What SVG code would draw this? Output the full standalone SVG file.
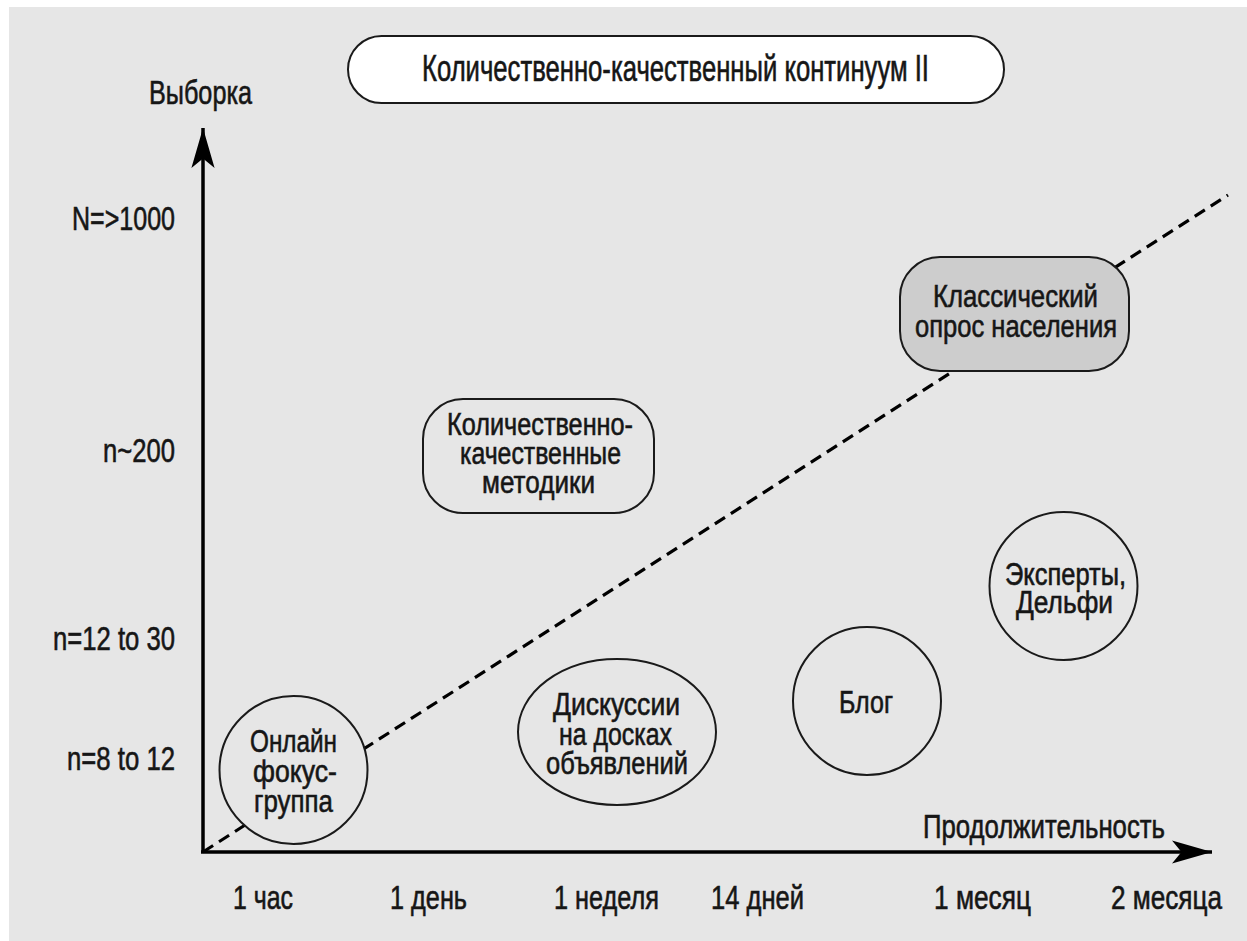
<svg xmlns="http://www.w3.org/2000/svg" width="1247" height="941" viewBox="0 0 1247 941">
<style>
  text { font-family: "Liberation Sans", Arial, sans-serif; fill: #161616; stroke: #161616; stroke-width: 0.6; }
  .ax { font-size: 33px; }
  .nd { font-size: 31px; }
  .ttl { font-size: 36px; }
  .shape { fill: #e6e6e6; stroke: #1a1a1a; stroke-width: 2; }
  .axis { stroke: #000; stroke-width: 3.5; fill: none; }
  .trend { stroke: #000; stroke-width: 3.2; stroke-dasharray: 12 7; fill: none; }
</style>
<defs>
  <marker id="arrowhead" markerUnits="userSpaceOnUse" markerWidth="40" markerHeight="24" viewBox="0 0 38 22" refX="38" refY="11" orient="auto">
    <path d="M0,0 L38,11 L0,22 L9,11 Z" fill="#000"/>
  </marker>
</defs>
<rect x="9" y="7" width="1238" height="934" fill="#e6e6e6"/>

<g id="connectors">
  <line class="trend" x1="203" y1="852" x2="1228" y2="195"/>
</g>

<g id="axes">
  <line class="axis" x1="203" y1="852" x2="203" y2="128" marker-end="url(#arrowhead)"/>
  <line class="axis" x1="201" y1="852" x2="1212" y2="852" marker-end="url(#arrowhead)"/>
  <text class="ax" x="149" y="104" textLength="103" lengthAdjust="spacingAndGlyphs">Выборка</text>
  <text class="ax" x="923" y="838" textLength="242" lengthAdjust="spacingAndGlyphs">Продолжительность</text>
  <text class="ax" x="72" y="230" textLength="103" lengthAdjust="spacingAndGlyphs">N=&gt;1000</text>
  <text class="ax" x="103" y="462" textLength="72" lengthAdjust="spacingAndGlyphs">n~200</text>
  <text class="ax" x="53" y="650" textLength="122" lengthAdjust="spacingAndGlyphs">n=12 to 30</text>
  <text class="ax" x="67" y="770" textLength="108" lengthAdjust="spacingAndGlyphs">n=8 to 12</text>
  <text class="ax" x="233" y="909" textLength="60" lengthAdjust="spacingAndGlyphs">1 час</text>
  <text class="ax" x="390" y="909" textLength="77" lengthAdjust="spacingAndGlyphs">1 день</text>
  <text class="ax" x="554" y="909" textLength="105" lengthAdjust="spacingAndGlyphs">1 неделя</text>
  <text class="ax" x="711" y="909" textLength="93" lengthAdjust="spacingAndGlyphs">14 дней</text>
  <text class="ax" x="934" y="909" textLength="97" lengthAdjust="spacingAndGlyphs">1 месяц</text>
  <text class="ax" x="1111" y="909" textLength="111" lengthAdjust="spacingAndGlyphs">2 месяца</text>
</g>

<g id="title">
  <rect x="348" y="36" width="656" height="67" rx="33.5" ry="33.5" fill="#fff" stroke="#1a1a1a" stroke-width="2"/>
  <text class="ttl" x="422" y="81" textLength="507" lengthAdjust="spacingAndGlyphs">Количественно-качественный континуум II</text>
</g>

<g id="node-online-focus">
  <circle class="shape" cx="293.5" cy="770" r="74"/>
  <text class="nd" x="250" y="752" textLength="87" lengthAdjust="spacingAndGlyphs">Онлайн</text>
  <text class="nd" x="253" y="782" textLength="84" lengthAdjust="spacingAndGlyphs">фокус-</text>
  <text class="nd" x="254" y="812" textLength="79" lengthAdjust="spacingAndGlyphs">группа</text>
</g>

<g id="node-discussions">
  <ellipse class="shape" cx="617" cy="732" rx="99" ry="73"/>
  <text class="nd" x="553" y="715" textLength="127" lengthAdjust="spacingAndGlyphs">Дискуссии</text>
  <text class="nd" x="559" y="745" textLength="113" lengthAdjust="spacingAndGlyphs">на досках</text>
  <text class="nd" x="546" y="774" textLength="142" lengthAdjust="spacingAndGlyphs">объявлений</text>
</g>

<g id="node-quant-qual">
  <rect class="shape" x="423" y="399" width="231" height="114" rx="40" ry="40"/>
  <text class="nd" x="447" y="435" textLength="186" lengthAdjust="spacingAndGlyphs">Количественно-</text>
  <text class="nd" x="460" y="464" textLength="161" lengthAdjust="spacingAndGlyphs">качественные</text>
  <text class="nd" x="482" y="493" textLength="113" lengthAdjust="spacingAndGlyphs">методики</text>
</g>

<g id="node-blog">
  <circle class="shape" cx="867" cy="701" r="74"/>
  <text class="nd" x="839" y="713" textLength="54" lengthAdjust="spacingAndGlyphs">Блог</text>
</g>

<g id="node-experts">
  <circle class="shape" cx="1063.5" cy="586" r="74"/>
  <text class="nd" x="1005" y="585" textLength="121" lengthAdjust="spacingAndGlyphs">Эксперты,</text>
  <text class="nd" x="1016" y="613" textLength="97" lengthAdjust="spacingAndGlyphs">Дельфи</text>
</g>

<g id="node-classic-survey">
  <rect x="900" y="257" width="229" height="114" rx="40" ry="40" fill="#cdcdcd" stroke="#1a1a1a" stroke-width="2"/>
  <text class="nd" x="933" y="307" textLength="165" lengthAdjust="spacingAndGlyphs">Классический</text>
  <text class="nd" x="915" y="337" textLength="202" lengthAdjust="spacingAndGlyphs">опрос населения</text>
</g>
</svg>
